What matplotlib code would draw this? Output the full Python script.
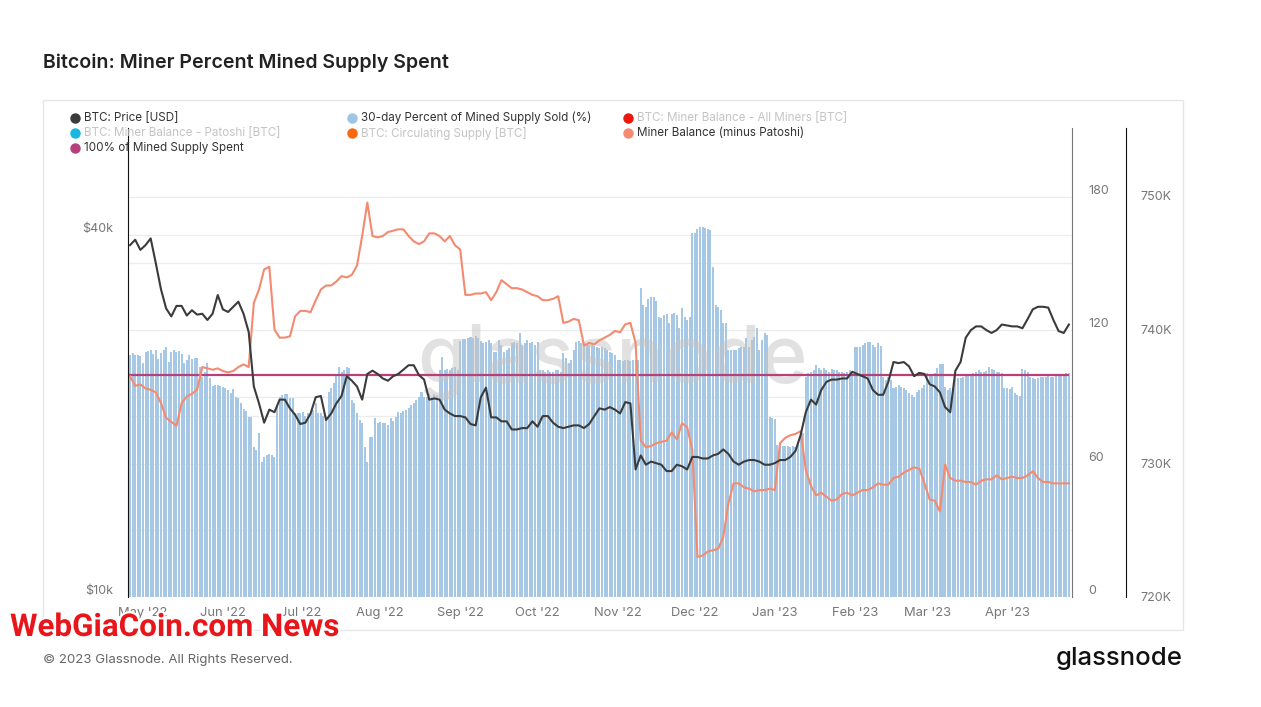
import matplotlib
matplotlib.use("Agg")
import matplotlib.pyplot as plt
import matplotlib.dates as mdates
import matplotlib.transforms as mtransforms
import matplotlib.patheffects as pe
from matplotlib.lines import Line2D
from matplotlib.patches import Rectangle
from matplotlib.ticker import NullLocator, NullFormatter
import pandas as pd

plt.rcParams['font.family'] = ['Inter', 'DejaVu Sans']

# daily dates, lines sampled every second day
dates = pd.date_range("2022-04-26", periods=365, freq="D")
line_dates = dates[::2]

# 30-day percent of mined supply sold (%), daily bars
pct_sold = [
    108.8, 109.5, 108.8, 108.8, 108.3, 105.3, 110.3, 110.7, 111.0, 109.2,
    111.0, 106.8, 109.8, 111.0, 112.5, 105.8, 110.3, 111.0, 110.3, 110.7,
    109.2, 105.3, 106.5, 108.8, 106.8, 107.3, 107.3, 103.5, 99.0, 101.3,
    105.0, 98.3, 94.8, 95.3, 95.3, 94.8, 94.5, 93.8, 93.0, 91.8,
    93.3, 90.0, 89.3, 87.0, 84.3, 83.7, 81.0, 81.0, 67.6, 66.0,
    73.5, 60.8, 63.1, 63.8, 64.3, 63.8, 63.1, 86.3, 90.0, 91.0,
    91.2, 91.2, 89.3, 89.3, 82.5, 82.5, 82.8, 83.3, 81.3, 82.8,
    82.8, 84.0, 87.3, 82.8, 82.5, 81.3, 80.7, 92.3, 93.8, 96.0,
    99.8, 103.5, 101.3, 102.0, 103.5, 102.8, 88.5, 87.0, 82.5, 79.5,
    78.0, 67.6, 60.8, 72.0, 72.0, 80.3, 78.3, 78.8, 78.3, 78.0,
    77.3, 80.3, 79.2, 80.7, 83.3, 82.8, 83.7, 84.0, 84.8, 86.3,
    87.0, 88.5, 90.0, 92.3, 90.0, 90.0, 91.2, 90.0, 91.2, 90.8,
    102.0, 108.0, 102.0, 102.3, 102.0, 102.8, 103.5, 102.0, 115.2, 115.8,
    115.8, 116.3, 117.0, 116.3, 117.3, 116.3, 115.2, 114.0, 114.7, 115.5,
    114.0, 110.3, 110.3, 115.5, 113.3, 110.3, 111.0, 111.8, 114.0, 114.7,
    114.0, 118.5, 113.3, 114.0, 115.5, 114.0, 114.7, 113.3, 114.7, 102.0,
    102.0, 101.3, 102.0, 101.3, 101.3, 102.0, 102.0, 101.3, 109.5, 107.3,
    105.0, 106.5, 111.0, 114.7, 115.2, 114.0, 114.0, 113.7, 113.3, 113.3,
    112.8, 112.5, 111.8, 112.5, 111.8, 111.0, 110.3, 109.5, 108.8, 106.5,
    106.5, 106.2, 106.5, 106.5, 106.2, 106.5, 106.5, 106.5, 138.7, 131.2,
    130.5, 134.0, 135.0, 135.0, 133.2, 126.0, 125.2, 126.7, 127.0, 123.0,
    127.2, 127.8, 126.7, 120.7, 129.7, 126.0, 124.5, 126.0, 163.4, 163.7,
    165.2, 166.4, 166.4, 165.7, 165.2, 164.9, 148.5, 131.2, 130.5, 129.0,
    123.0, 123.3, 111.0, 111.0, 111.0, 111.0, 111.8, 112.5, 112.5, 116.3,
    112.5, 115.5, 117.0, 120.7, 111.0, 115.5, 118.5, 117.7, 81.0, 80.3,
    79.8, 68.3, 67.9, 67.9, 67.9, 67.9, 67.6, 67.9, 67.6, 69.0,
    72.0, 73.5, 99.0, 100.5, 101.3, 102.0, 104.3, 102.8, 102.0, 102.8,
    102.0, 101.3, 102.3, 102.0, 102.0, 101.3, 101.3, 100.5, 101.3, 102.0,
    100.5, 112.5, 112.2, 112.5, 113.3, 114.0, 114.7, 114.7, 113.3, 112.5,
    114.0, 112.8, 99.0, 97.5, 99.0, 97.5, 93.8, 94.5, 95.3, 94.5,
    93.8, 93.0, 91.8, 90.8, 90.0, 92.3, 93.0, 93.8, 95.3, 100.5,
    100.2, 99.8, 100.8, 102.8, 104.6, 104.7, 94.5, 93.0, 93.8, 93.0,
    99.0, 98.3, 98.3, 98.7, 99.3, 99.3, 99.8, 100.5, 101.3, 102.0,
    101.3, 101.3, 101.7, 103.2, 102.3, 102.0, 101.3, 101.3, 100.5, 93.8,
    93.8, 93.3, 94.5, 91.8, 90.8, 90.3, 102.3, 102.0, 101.3, 98.7,
    98.3, 97.8, 98.3, 98.7, 99.0, 99.0, 99.3, 99.0, 99.0, 99.3,
    99.8, 100.2, 100.2, 100.5, 100.5,
]

# BTC price, thousand USD (every 2nd day)
price_k = [
    38.5, 39.3, 37.8, 38.5, 39.5, 35.9, 32.5, 30.2, 29.3, 30.5,
    30.5, 29.4, 30.0, 29.5, 29.6, 28.9, 29.6, 31.8, 30.1, 29.8,
    30.4, 31.0, 29.6, 27.6, 22.4, 21.0, 19.5, 20.5, 20.3, 21.3,
    21.3, 20.6, 20.1, 19.4, 19.5, 20.2, 21.5, 21.6, 19.7, 20.2,
    21.0, 21.6, 23.3, 22.9, 22.4, 21.3, 23.5, 23.8, 23.5, 23.1,
    22.9, 23.3, 23.5, 23.9, 24.3, 24.3, 23.4, 23.0, 21.3, 21.4,
    21.3, 20.5, 20.2, 20.0, 20.0, 19.9, 19.4, 19.3, 21.5, 22.3,
    19.9, 19.9, 19.6, 19.6, 19.0, 19.0, 19.1, 19.1, 19.6, 19.2,
    20.0, 20.0, 19.5, 19.2, 19.1, 19.2, 19.3, 19.3, 19.1, 19.4,
    20.0, 20.6, 20.5, 20.7, 20.5, 20.2, 21.1, 21.0, 16.3, 17.2,
    16.6, 16.8, 16.7, 16.6, 16.2, 16.2, 16.6, 16.5, 16.3, 17.1,
    17.1, 17.0, 17.0, 17.2, 17.3, 17.6, 17.3, 16.8, 16.6, 16.8,
    16.9, 16.9, 16.8, 16.6, 16.6, 16.7, 16.9, 16.9, 17.1, 17.5,
    18.6, 20.3, 21.3, 20.9, 22.1, 22.8, 23.0, 23.0, 23.1, 23.1,
    23.7, 23.5, 23.3, 23.1, 22.1, 21.7, 21.7, 22.8, 24.6, 24.5,
    24.6, 24.2, 23.3, 23.6, 23.5, 22.6, 22.4, 21.9, 20.7, 20.3,
    23.8, 24.6, 27.0, 27.8, 28.2, 28.2, 27.8, 27.5, 27.8, 28.4,
    28.3, 28.2, 28.2, 28.0, 29.0, 30.1, 30.4, 30.4, 30.3, 28.9,
    27.7, 27.5, 28.4,
]

# miner balance minus Patoshi, thousand BTC (every 2nd day)
miner_bal_k = [
    736.5, 735.8, 735.9, 735.6, 735.5, 735.3, 734.5, 733.4, 733.1, 732.8,
    734.5, 735.0, 735.2, 735.5, 737.2, 737.1, 737.0, 737.1, 736.9, 736.8,
    736.9, 737.2, 737.4, 737.2, 742.0, 743.0, 744.5, 744.7, 740.0, 739.4,
    739.4, 739.5, 741.0, 741.4, 741.4, 741.3, 742.2, 743.0, 743.3, 743.3,
    743.6, 744.0, 743.9, 744.1, 744.8, 747.0, 749.5, 747.0, 746.9, 747.0,
    747.3, 747.4, 747.5, 747.5, 747.0, 746.6, 746.4, 746.6, 747.2, 747.2,
    747.0, 746.6, 747.0, 746.3, 746.0, 742.6, 742.6, 742.7, 742.7, 742.8,
    742.2, 742.8, 743.7, 743.4, 743.1, 743.1, 743.0, 742.8, 742.6, 742.5,
    742.2, 742.2, 742.3, 742.5, 740.5, 740.6, 740.8, 740.7, 738.8, 739.0,
    738.9, 739.2, 739.4, 739.6, 739.9, 739.8, 740.4, 740.5, 739.0, 731.7,
    731.2, 731.3, 731.5, 731.6, 731.7, 732.3, 731.8, 733.0, 732.7, 731.0,
    723.0, 723.1, 723.4, 723.5, 723.6, 724.5, 727.0, 728.5, 728.5, 728.2,
    728.1, 727.9, 728.0, 728.0, 728.1, 728.0, 731.5, 731.9, 732.1, 732.2,
    732.4, 729.5, 728.3, 727.6, 727.8, 727.5, 727.2, 727.3, 727.7, 727.8,
    727.6, 727.8, 728.0, 728.0, 728.2, 728.5, 728.4, 728.4, 728.9, 729.0,
    729.3, 729.5, 729.7, 729.6, 728.5, 727.3, 727.2, 726.4, 729.9, 728.9,
    728.7, 728.7, 728.6, 728.6, 728.4, 728.7, 728.8, 728.8, 729.1, 728.8,
    728.9, 729.0, 728.9, 728.9, 729.1, 729.4, 728.9, 728.6, 728.6, 728.5,
    728.5, 728.5, 728.5,
]

spent_level = 100  # 100% of mined supply spent

pct_ticks = [0, 60, 120, 180]
pct_grid = [30, 60, 90, 120, 150, 180]
bal_ticks = [720, 730, 740, 750]
price_ticks = [10, 40]
price_grid = [20, 40]

legend_labels = [
    ["BTC: Price [USD]", "30-day Percent of Mined Supply Sold (%)", "BTC: Miner Balance - All Miners [BTC]"],
    ["BTC: Miner Balance - Patoshi [BTC]", "BTC: Circulating Supply [BTC]", "Miner Balance (minus Patoshi)"],
    ["100% of Mined Supply Spent", None, None],
]
legend_colors = [
    ["#3b3b3b", "#9ec5e2", "#e8190c"],
    ["#17b8e0", "#f7690f", "#f48a70"],
    ["#b8407a", None, None],
]
legend_active = [
    [True, True, False],
    [False, False, True],
    [True, None, None],
]

W, H = 1261, 707
def fx(px):
    return px / W
def fy(py):
    return 1 - py / H

GRAY = "#777777"
BAR = "#a6c8e4"
SALMON = "#f48a70"
PRICE = "#3b3b3b"
MAGENTA = "#b8407a"

fig = plt.figure(figsize=(W / 100, H / 100), dpi=100)
fig.patch.set_facecolor("white")

ax = fig.add_axes([fx(128), fy(597), 944 / W, 469 / H])
ax_bal = ax.twinx()
ax_price = ax.twinx()

# percent axis (bars)
for g in pct_grid:
    ax.axhline(g, color="#ececec", lw=0.9, zorder=0)
ax.bar(dates, pct_sold, width=0.78, color=BAR, zorder=2, linewidth=0)
ax.hlines(spent_level, dates[0] - pd.Timedelta(hours=12), dates[-1], color=MAGENTA, lw=1.6, zorder=3)
ax.set_ylim(0, 210.8)
ax.yaxis.tick_right()
ax.set_yticks(pct_ticks, [str(t) for t in pct_ticks], va="bottom")
ax.tick_params(axis="y", length=0, pad=11.5, labelcolor=GRAY, labelsize=9)

# price gridlines drawn behind the bars, on the price scale
trans = mtransforms.blended_transform_factory(ax.transAxes, ax_price.transData)
for g in price_grid:
    ax.plot([0, 1], [g, g], transform=trans, color="#ececec", lw=0.9, zorder=0)

ax.text(0.513, 0.50, "glassnode", transform=ax.transAxes, ha="center", va="center",
        fontsize=57, fontweight="medium", color="#c4c4c4", alpha=0.5, zorder=2.5)

ax.set_xlim(dates[0] - pd.Timedelta(hours=19), dates[-1] + pd.Timedelta(hours=29))
month_starts = pd.date_range("2022-05-01", "2023-04-01", freq="MS")
ax.set_xticks(month_starts)
ax.xaxis.set_major_formatter(mdates.DateFormatter("%b '%y"))
ax.tick_params(axis="x", length=0, pad=7.5, labelcolor=GRAY, labelsize=9.3)

# miner balance axis
ax_bal.plot(line_dates, miner_bal_k, color=SALMON, lw=1.5, zorder=3)
ax_bal.set_ylim(720, 755.08)
ax_bal.set_yticks(bal_ticks, [f"{t}K" for t in bal_ticks], va="bottom")
ax_bal.tick_params(axis="y", length=0, pad=10.5, labelcolor=GRAY, labelsize=9)
ax_bal.spines["right"].set_position(("axes", (1126 - 128) / 944))
ax_bal.spines["right"].set_color("#111111")

# price axis (log, left)
ax_price.plot(line_dates, price_k, color=PRICE, lw=1.5, zorder=4)
ax_price.set_yscale("log")
ax_price.set_ylim(10, 60.3)
ax_price.yaxis.tick_left()
ax_price.set_yticks(price_ticks, [f"${t}k" for t in price_ticks], va="bottom")
ax_price.yaxis.set_minor_locator(NullLocator())
ax_price.yaxis.set_minor_formatter(NullFormatter())
ax_price.tick_params(axis="y", length=0, pad=11, labelcolor=GRAY, labelsize=9)

for a in (ax, ax_bal, ax_price):
    a.spines["top"].set_visible(False)
    a.spines["bottom"].set_visible(False)
    a.patch.set_visible(False)
ax.spines["left"].set_visible(False)
ax.spines["right"].set_color("#777777")
ax_bal.spines["left"].set_visible(False)
ax_price.spines["right"].set_visible(False)
ax_price.spines["left"].set_color("#111111")

# outer frame
fig.add_artist(Rectangle((fx(43), fy(630)), 1140 / W, 530 / H, transform=fig.transFigure,
                         fill=False, edgecolor="#e6e6e6", lw=1))

fig.text(fx(43), fy(63), "Bitcoin: Miner Percent Mined Supply Spent", fontsize=14.1,
         fontweight="semibold", color="#222222", va="center")

# legend
col_dot = [75, 352, 628]
col_txt = [84, 361, 637]
row_y = [118, 133, 148]
for r in range(3):
    for c in range(3):
        lab = legend_labels[r][c]
        if lab is None:
            continue
        fig.add_artist(Line2D([fx(col_dot[c])], [fy(row_y[r])], marker="o", markersize=6.5,
                              color=legend_colors[r][c], linestyle="none", transform=fig.transFigure))
        fig.text(fx(col_txt[c]), fy(row_y[r]), lab, fontsize=8.4, va="center",
                 color="#333333" if legend_active[r][c] else "#c4c4c4")

fig.text(fx(43), fy(660), "\u00a9 2023 Glassnode. All Rights Reserved.", fontsize=9.5,
         color="#666666", va="center")
fig.text(fx(1183), fy(659), "glassnode", fontsize=18.5, fontweight="medium",
         color="#111111", va="center", ha="right")

fig.text(fx(10), fy(627), "WebGiaCoin.com News", fontsize=22.6, fontweight="bold",
         family=["Roboto", "DejaVu Sans"], color="#e8151b", va="center",
         path_effects=[pe.withStroke(linewidth=3, foreground="white")])

fig.savefig("out.png", dpi=100)
